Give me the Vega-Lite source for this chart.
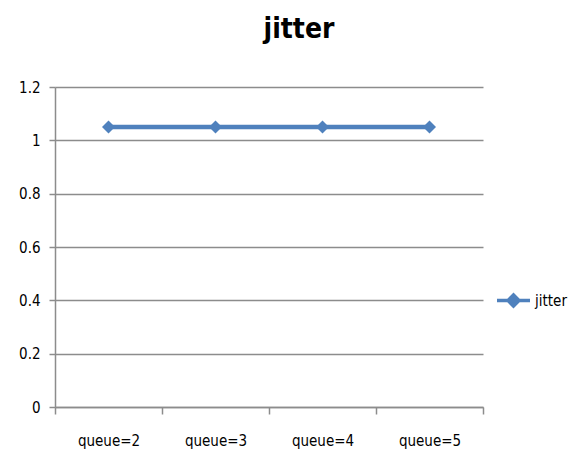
{
  "$schema": "https://vega.github.io/schema/vega-lite/v6.json",
  "autosize": "none",
  "width": 428,
  "height": 320,
  "padding": {"left": 55, "top": 87, "right": 104, "bottom": 59},
  "background": "white",
  "title": {
    "text": "jitter",
    "fontSize": 28,
    "fontWeight": "bold",
    "font": "Liberation Sans Narrow, DejaVu Sans Condensed, sans-serif",
    "color": "#000000",
    "anchor": "middle",
    "dx": 30,
    "offset": 36
  },
  "data": {
    "values": [
      {"queue": "queue=2", "value": 1.05, "series": "jitter"},
      {"queue": "queue=3", "value": 1.05, "series": "jitter"},
      {"queue": "queue=4", "value": 1.05, "series": "jitter"},
      {"queue": "queue=5", "value": 1.05, "series": "jitter"}
    ]
  },
  "config": {
    "view": {"stroke": null},
    "axis": {
      "labelFont": "Liberation Sans Narrow, DejaVu Sans Condensed, sans-serif",
      "labelColor": "#000000",
      "domainColor": "#8c8c8c",
      "tickColor": "#8c8c8c",
      "gridColor": "#8c8c8c",
      "domainWidth": 1.5,
      "tickWidth": 1.5,
      "gridWidth": 1.5
    }
  },
  "encoding": {
    "x": {
      "field": "queue",
      "type": "nominal",
      "scale": {"paddingInner": 0, "paddingOuter": 0},
      "axis": {
        "title": null,
        "labelAngle": 0,
        "labelFontSize": 15,
        "tickBand": "extent",
        "tickSize": 7,
        "labelPadding": 19,
        "grid": false
      }
    },
    "y": {
      "field": "value",
      "type": "quantitative",
      "scale": {"domain": [0, 1.2]},
      "axis": {
        "title": null,
        "values": [0, 0.2, 0.4, 0.6, 0.8, 1, 1.2],
        "format": "~g",
        "labelFontSize": 15,
        "tickSize": 6,
        "labelPadding": 9,
        "grid": true
      }
    },
    "color": {
      "field": "series",
      "type": "nominal",
      "scale": {"range": ["#4F81BD"]},
      "legend": {
        "title": null,
        "orient": "none",
        "legendX": 440,
        "legendY": 195,
        "symbolType": "M-1,0H1M0,-0.33L0.33,0L0,0.33L-0.33,0Z",
        "symbolSize": 1089,
        "symbolStrokeWidth": 3.5,
        "symbolFillColor": "#4F81BD",
        "symbolStrokeColor": "#4F81BD",
        "labelFont": "Liberation Sans Narrow, DejaVu Sans Condensed, sans-serif",
        "labelFontSize": 15,
        "labelColor": "#000000",
        "labelOffset": 3
      }
    }
  },
  "layer": [
    {"mark": {"type": "line", "strokeWidth": 4.5}},
    {"mark": {"type": "point", "shape": "diamond", "filled": true, "size": 170, "opacity": 1}}
  ]
}
